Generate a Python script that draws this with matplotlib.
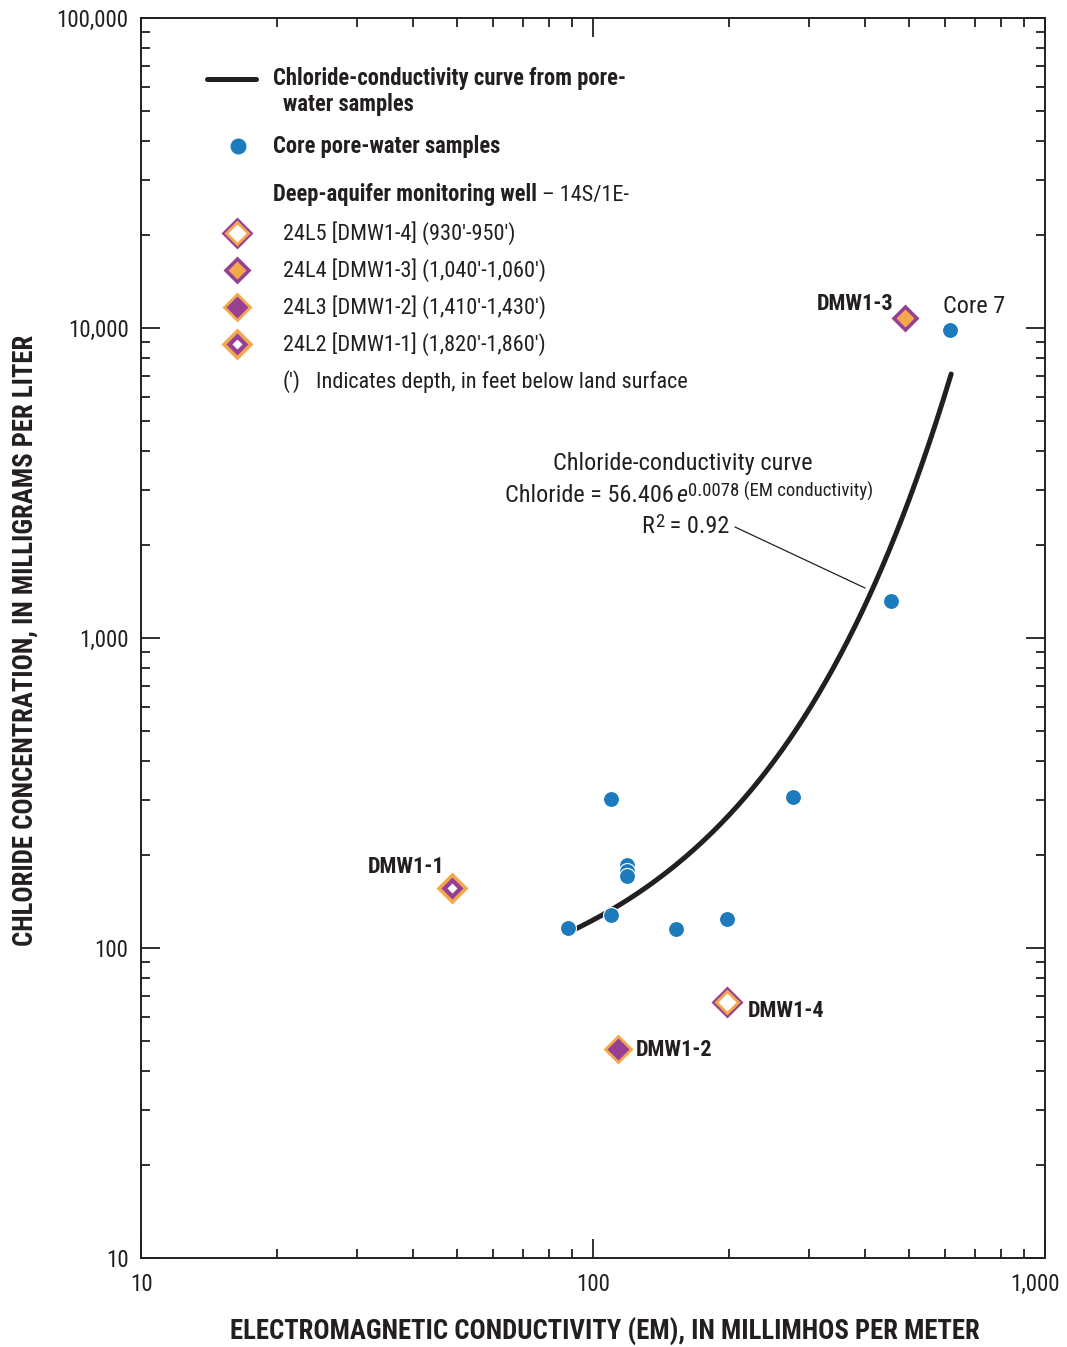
import numpy as np
import matplotlib
matplotlib.use('Agg')
from matplotlib import pyplot as plt
from matplotlib import font_manager as fm
from matplotlib.ticker import LogLocator, NullFormatter, FixedFormatter, FixedLocator

# narrow face close to the original's condensed type
have = set(f.name for f in fm.fontManager.ttflist)
FAM = 'Roboto Condensed' if 'Roboto Condensed' in have else 'DejaVu Sans'
plt.rcParams['font.family'] = [FAM, 'DejaVu Sans']
plt.rcParams['font.stretch'] = 'condensed'

BLUE = '#1b7bbd'
PURPLE = '#973f94'
ORANGE = '#f3a84b'
INK = '#231f20'

# core pore-water samples (EM conductivity, chloride)
core_em = [88, 109.5, 109.5, 119, 119, 119, 153, 198, 277, 456, 616]
core_cl = [116, 302, 128, 185, 177, 171, 115, 124, 307, 1315, 9850]

# deep-aquifer monitoring wells
well_names = ['DMW1-4', 'DMW1-3', 'DMW1-2', 'DMW1-1']
well_em = [198, 490, 113.5, 48.7]
well_cl = [67, 10770, 47.2, 156]

# fitted curve: Chloride = 56.406 e^(0.0078 EM)
fit_a = 56.406
fit_b = 0.0078
fit_em_range = [88, 620]

x_ticks = [10, 100, 1000]
x_tick_labels = ['10', '100', '1,000']
y_ticks = [10, 100, 1000, 10000, 100000]
y_tick_labels = ['10', '100', '1,000', '10,000', '100,000']

# diamond layers (colour, tip-to-tip size in px), drawn from outside in
well_layers = {
    'DMW1-4': [(PURPLE, 31), (ORANGE, 25), ('white', 18)],
    'DMW1-3': [(PURPLE, 28), (ORANGE, 18)],
    'DMW1-2': [(ORANGE, 30), (PURPLE, 22)],
    'DMW1-1': [(ORANGE, 31), (PURPLE, 22), ('white', 9)],
}
legend_rows = [
    ('DMW1-4', "24L5 [DMW1-4] (930'-950')"),
    ('DMW1-3', "24L4 [DMW1-3] (1,040'-1,060')"),
    ('DMW1-2', "24L3 [DMW1-2] (1,410'-1,430')"),
    ('DMW1-1', "24L2 [DMW1-1] (1,820'-1,860')"),
]

W, H = 1067, 1347
fig = plt.figure(figsize=(W / 100, H / 100), dpi=100)
ax = fig.add_axes([141 / W, 1 - 1258 / H, (1045 - 141) / W, (1258 - 18) / H])
ax.set_xscale('log')
ax.set_yscale('log')
ax.set_xlim(10, 1000)
ax.set_ylim(10, 100000)


def fx(px):
    return px / W


def fy(py):
    return 1 - py / H


def px2ms(px):
    # tip-to-tip pixels of a 'D' marker -> markersize in points
    return px / 1.414 * 0.72


def diamond(x, y, name, **kw):
    for i, (c, s) in enumerate(well_layers[name]):
        ax.plot([x], [y], 'D', ms=px2ms(s), mfc=c, mec='none', zorder=5 + i * 0.1,
                clip_on=False, **kw)


def after(t, gap=0):
    # left edge (figure fraction) just after text t
    fig.canvas.draw()
    return t.get_window_extent().x1 / W + gap / W


# curve
xs = np.linspace(fit_em_range[0], fit_em_range[1], 200)
ax.plot(xs, fit_a * np.exp(fit_b * xs), color=INK, lw=3.6, solid_capstyle='round', zorder=3)

# core samples
ax.plot(core_em, core_cl, 'o', ms=11.5, mfc=BLUE, mec='white', mew=0.8, zorder=4)

# wells
for n, x, y in zip(well_names, well_em, well_cl):
    diamond(x, y, n)

# ticks
for side in ['top', 'bottom', 'left', 'right']:
    ax.spines[side].set_linewidth(1.4)
    ax.spines[side].set_color(INK)
ax.tick_params(which='both', direction='in', top=True, right=True, color=INK, width=1.3)
ax.tick_params(which='major', length=14)
ax.tick_params(which='minor', length=6.5)
ax.xaxis.set_major_locator(FixedLocator(x_ticks))
# last x label sits a little left of its tick, as in the original
ax.xaxis.set_major_formatter(FixedFormatter(x_tick_labels[:-1] + ['']))
ax.yaxis.set_major_locator(FixedLocator(y_ticks))
ax.yaxis.set_major_formatter(FixedFormatter(y_tick_labels))
ax.xaxis.set_minor_locator(LogLocator(base=10, subs=np.arange(2, 10)))
ax.yaxis.set_minor_locator(LogLocator(base=10, subs=np.arange(2, 10)))
ax.xaxis.set_minor_formatter(NullFormatter())
ax.yaxis.set_minor_formatter(NullFormatter())
ax.tick_params(axis='x', which='major', pad=11, labelsize=16.5, labelcolor=INK)
ax.tick_params(axis='y', which='major', pad=9, labelsize=16.5, labelcolor=INK)
fig.text(fx(1060), fy(1284), x_tick_labels[-1], fontsize=16.5, color=INK,
         ha='right', va='center')

# axis titles
fig.text(fx(605), fy(1332), 'ELECTROMAGNETIC CONDUCTIVITY (EM), IN MILLIMHOS PER METER',
         fontsize=19.3, fontweight='bold', color=INK, ha='center', va='center')
fig.text(fx(25), fy(640), 'CHLORIDE CONCENTRATION, IN MILLIGRAMS PER LITER',
         fontsize=19.3, fontweight='bold', color=INK, ha='center', va='center', rotation=90)

# point labels
lab = dict(fontsize=16, fontweight='bold', color=INK, va='center')
fig.text(fx(893), fy(304), 'DMW1-3', ha='right', **lab)
fig.text(fx(444), fy(867), 'DMW1-1', ha='right', **lab)
fig.text(fx(748), fy(1011), 'DMW1-4', ha='left', **lab)
fig.text(fx(636), fy(1050), 'DMW1-2', ha='left', **lab)

# curve annotation
ann = dict(fontsize=17.5, color=INK, va='baseline')
sup = dict(fontsize=13.5, color=INK, va='baseline')
fig.text(fx(943), fy(313), 'Core 7', ha='left', **ann)
fig.text(fx(683), fy(470), 'Chloride-conductivity curve', ha='center', **ann)
t = fig.text(fx(505), fy(502), 'Chloride = 56.406', ha='left', **ann)
t = fig.text(after(t, 2), fy(502), 'e', ha='left', style='italic', **ann)
fig.text(after(t, 1), fy(497), '0.0078 (EM conductivity)', ha='left', **sup)
t = fig.text(fx(641), fy(533), 'R', ha='left', **ann)
t = fig.text(after(t, 1), fy(527), '2', ha='left', **sup)
fig.text(after(t, 0), fy(533), ' = 0.92', ha='left', **ann)
ax.annotate('', xy=(fx(865), fy(588)), xytext=(fx(735), fy(527)),
            xycoords='figure fraction', textcoords='figure fraction',
            arrowprops=dict(arrowstyle='-', color=INK, lw=0.9, shrinkA=0, shrinkB=0))

# legend (figure pixels)
leg_b = dict(fontsize=16.3, fontweight='bold', color=INK, va='center', ha='left')
leg_r = dict(fontsize=16, color=INK, va='center', ha='left')
fig.lines.append(plt.Line2D([fx(207), fx(256)], [fy(79), fy(79)], color=INK, lw=3.6,
                            solid_capstyle='round', transform=fig.transFigure))
fig.text(fx(273), fy(79), 'Chloride-conductivity curve from pore-', **leg_b)
fig.text(fx(283), fy(104), 'water samples', **leg_b)
ax.plot([fx(238)], [fy(146)], 'o', ms=11.5, mfc=BLUE, mec='none', transform=fig.transFigure,
        clip_on=False)
fig.text(fx(273), fy(146), 'Core pore-water samples', **leg_b)
t = fig.text(fx(273), fy(195), 'Deep-aquifer monitoring well', **leg_b)
fig.text(after(t, 5), fy(195), '\u2013 14S/1E-', **leg_r)
for i, (n, label) in enumerate(legend_rows):
    y = 233 + i * 37
    for j, (c, s) in enumerate(well_layers[n]):
        ax.plot([fx(237)], [fy(y)], 'D', ms=px2ms(s), mfc=c, mec='none',
                transform=fig.transFigure, clip_on=False, zorder=5 + j * 0.1)
    fig.text(fx(283), fy(y), label, **leg_r)
fig.text(fx(283), fy(382), "(')", **leg_r)
fig.text(fx(316), fy(382), 'Indicates depth, in feet below land surface', **leg_r)

fig.savefig('out.png', dpi=100)
